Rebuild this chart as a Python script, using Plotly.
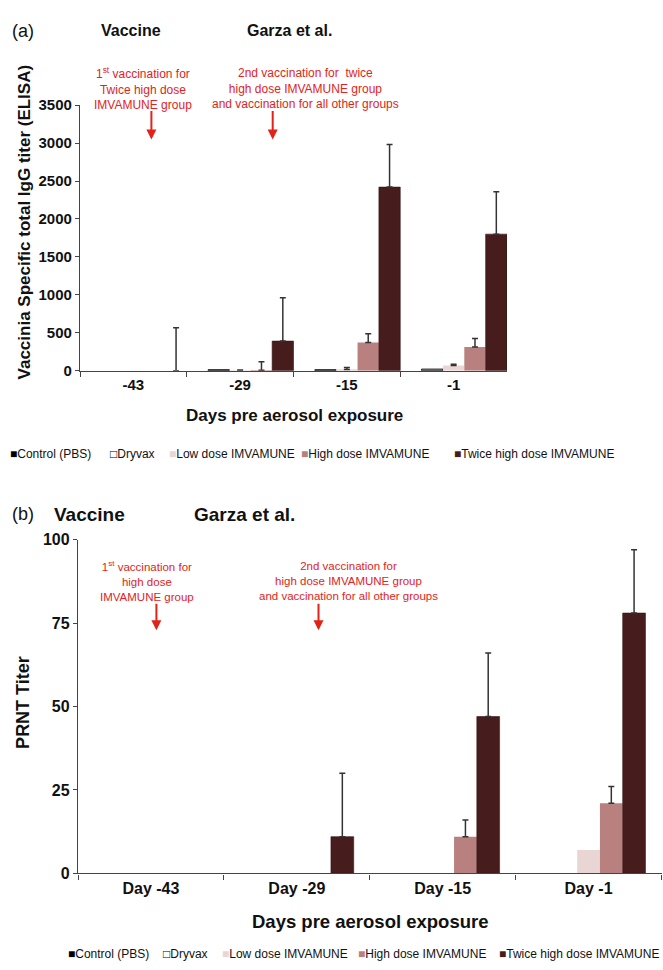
import numpy as np
import plotly.graph_objects as go

# ---------------- data ----------------
days_a = ["-43", "-29", "-15", "-1"]
days_b = ["Day -43", "Day -29", "Day -15", "Day -1"]
groups = ["Control (PBS)", "Dryvax", "Low dose IMVAMUNE", "High dose IMVAMUNE",
          "Twice high dose IMVAMUNE"]

# Panel (a): Vaccinia specific total IgG titer (ELISA)
control_a = [0, 0, 0, 0]
dryvax_a = [0, 12, 12, 20]
low_a = [0, 3, 15, 67]
high_a = [0, 5, 370, 313]
twice_a = [0, 390, 2420, 1800]
control_err_a = [0, 0, 0, 0]
dryvax_err_a = [0, 0, 0, 0]
low_err_a = [0, 7, 28, 17]
high_err_a = [0, 111, 115, 111]
twice_err_a = [565, 570, 560, 560]

# Panel (b): PRNT titer
control_b = [0, 0, 0, 0]
dryvax_b = [0, 0, 0, 0]
low_b = [0, 0, 0, 7]
high_b = [0, 0, 11, 21]
twice_b = [0, 11, 47, 78]
control_err_b = [0, 0, 0, 0]
dryvax_err_b = [0, 0, 0, 0]
low_err_b = [0, 0, 0, 0]
high_err_b = [0, 0, 5, 5]
twice_err_b = [0, 19, 19, 19]

# ---------------- style ----------------
W, H = 663, 970
FONT = "Arial, Liberation Sans, sans-serif"
RED = "#e2231a"
AXIS = "#444444"
fills = ["#000000", "#ffffff", "#ead5d5", "#b8807e", "#461c1c"]
lines = ["#000000", "#000000", "#ead5d5", "#b8807e", "#3a1414"]
outline = [0, 1, 0, 0, 0.6]


def px(x):
    return x / W


def py(y):
    return 1 - y / H


def err_plus(errs):
    # one-sided (upward) error bars; points without an error bar get NaN
    e = np.array(errs, dtype=float)
    plus = np.where(e > 0, e, np.nan)
    minus = np.where(e > 0, 0.0, np.nan)
    return plus, minus


def line_widths(vals, w):
    # no outline on empty (zero) bars
    return [w if v > 0 else 0 for v in vals]


vals_a = [control_a, dryvax_a, low_a, high_a, twice_a]
errs_a = [control_err_a, dryvax_err_a, low_err_a, high_err_a, twice_err_a]
vals_b = [control_b, dryvax_b, low_b, high_b, twice_b]
errs_b = [control_err_b, dryvax_err_b, low_err_b, high_err_b, twice_err_b]

fig = go.Figure()

bw_a = 0.2
for i, g in enumerate(groups):
    plus, minus = err_plus(errs_a[i])
    fig.add_trace(go.Bar(
        x=days_a, y=vals_a[i], name=g, xaxis="x", yaxis="y",
        width=bw_a, offset=-0.5 + bw_a * i,
        marker=dict(color=fills[i],
                    line=dict(color=lines[i], width=line_widths(vals_a[i], outline[i]))),
        error_y=dict(type="data", array=plus, arrayminus=minus,
                     symmetric=False, visible=True,
                     color="#333333", thickness=1.5, width=3),
        showlegend=False))

bw_b = 0.156
for i, g in enumerate(groups):
    plus, minus = err_plus(errs_b[i])
    fig.add_trace(go.Bar(
        x=days_b, y=vals_b[i], name=g, xaxis="x2", yaxis="y2",
        width=bw_b, offset=-2.5 * bw_b + bw_b * i,
        marker=dict(color=fills[i],
                    line=dict(color=lines[i], width=line_widths(vals_b[i], outline[i]))),
        error_y=dict(type="data", array=plus, arrayminus=minus,
                     symmetric=False, visible=True,
                     color="#333333", thickness=1.5, width=3),
        showlegend=False))

axis_common = dict(showline=True, linecolor=AXIS, linewidth=1.3, ticks="outside",
                   tickcolor=AXIS, showgrid=False, zeroline=False)

fig.update_layout(
    width=W, height=H, autosize=False,
    margin=dict(l=0, r=0, t=0, b=0),
    paper_bgcolor="white", plot_bgcolor="white",
    barmode="overlay",
    font=dict(family=FONT, color="#111111"),
    xaxis=dict(domain=[px(80), px(507)], anchor="y", type="category",
               range=[-0.5, 3.5], tickson="boundaries", ticklen=5,
               tickfont=dict(size=15, weight="bold", family=FONT), **axis_common),
    yaxis=dict(domain=[py(368.5), py(98)], anchor="x", range=[0, 3500], dtick=500,
               ticklen=4, tickformat="d",
               tickfont=dict(size=15, weight="bold", family=FONT), **axis_common),
    xaxis2=dict(domain=[px(78), px(661.5)], anchor="y2", type="category",
                range=[-0.5, 3.5], tickson="boundaries", ticklen=5,
                tickfont=dict(size=16, weight="bold", family=FONT), **axis_common),
    yaxis2=dict(domain=[py(880.7), py(540.7)], anchor="x2", range=[0, 100], dtick=25,
                ticklen=4, tickfont=dict(size=16, weight="bold", family=FONT),
                **axis_common),
)

ann = []


def text(t, x, y, size, bold=False, color="#111111", xanchor="left", angle=0):
    ann.append(dict(text=("<b>%s</b>" % t) if bold else t, x=px(x), y=py(y),
                    xref="paper", yref="paper", xanchor=xanchor, yanchor="middle",
                    showarrow=False, textangle=angle, align="center",
                    font=dict(size=size, color=color, family=FONT)))


def arrow(x, y_tip, length):
    ann.append(dict(text="", x=px(x), y=py(y_tip), xref="paper", yref="paper",
                    ax=0, ay=-length, showarrow=True, arrowhead=2, arrowsize=1,
                    arrowwidth=2, arrowcolor=RED, standoff=0))


# ---- panel (a) headers ----
text("(a)", 10, 22, 18)
text("Vaccine", 99, 22, 16, bold=True)
text("Garza et al.", 245, 22, 16, bold=True)
text("1<sup>st</sup> vaccination for<br>Twice high dose<br>IMVAMUNE group",
     143, 81, 12, color=RED, xanchor="center")
text("2nd vaccination for \u00a0twice<br>high dose IMVAMUNE group<br>"
     "and vaccination for all other groups",
     305, 81, 12, color=RED, xanchor="center")
arrow(151.4, 133, 30)
arrow(272.7, 133, 30)
text("Vaccinia Specific total IgG titer (ELISA)", 24, 217.5, 17, bold=True,
     xanchor="center", angle=-90)
text("Days pre aerosol exposure", 294, 414, 17, bold=True, xanchor="center")

# ---- panel (b) headers ----
text("(b)", 10, 515, 18)
text("Vaccine", 52, 515, 19, bold=True)
text("Garza et al.", 192, 515, 19, bold=True)
text("1<sup>st</sup> vaccination for<br>high dose<br>IMVAMUNE group",
     147, 583, 11.5, color=RED, xanchor="center")
text("2nd vaccination for<br>high dose IMVAMUNE group<br>"
     "and vaccination for all other groups",
     348, 583, 11.5, color=RED, xanchor="center")
arrow(156.4, 633, 28)
arrow(318.5, 633, 28)
text("PRNT Titer", 23, 707, 18, bold=True, xanchor="center", angle=-90)
text("Days pre aerosol exposure", 370, 930, 18.5, bold=True, xanchor="center")

# ---- legends (as text rows) ----
sq = ["\u25a0", "\u25a1", "\u25a0", "\u25a0", "\u25a0"]
sq_col = ["#000000", "#000000", "#ead5d5", "#b8807e", "#461c1c"]
leg_x_a = [8, 108, 167, 299, 452]
leg_x_b = [66, 161, 220, 356, 497]
for i, g in enumerate(groups):
    t = "<span style='color:%s'>%s</span>%s" % (sq_col[i], sq[i], g)
    text(t, leg_x_a[i], 453, 12)
    text(t, leg_x_b[i], 963, 12)

fig.update_layout(annotations=ann)
fig.write_html("out.html",
               config={"displayModeBar": False},
               post_script="document.body.style.margin='0';"
                           "document.body.style.overflow='hidden';")
